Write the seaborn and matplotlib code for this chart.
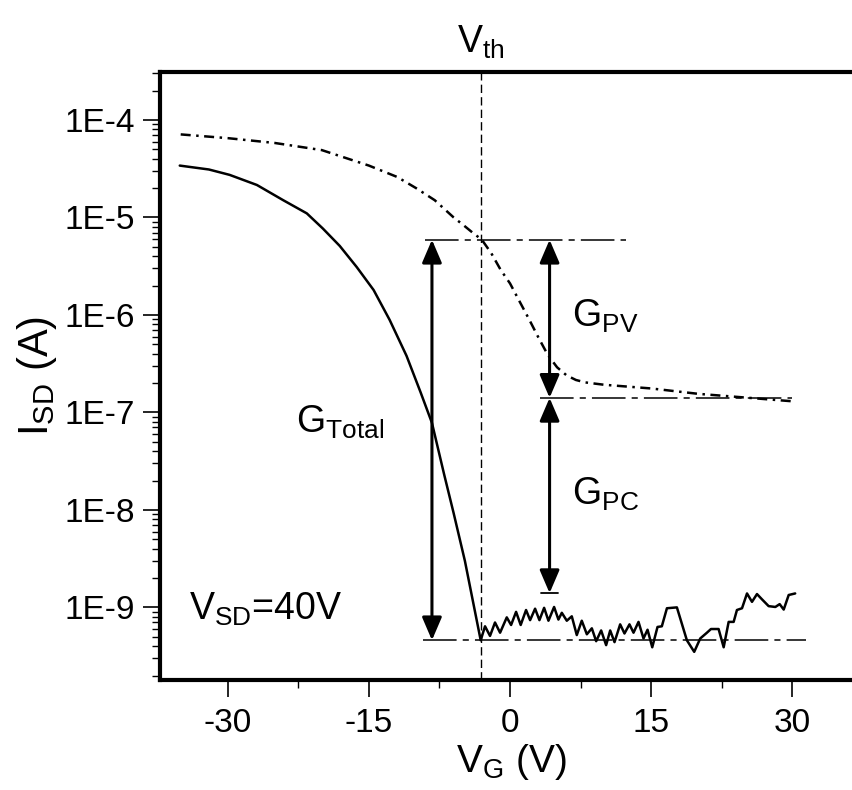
# transfer curve of the photo transistor, log scale current vs gate voltage
import matplotlib
matplotlib.use('Agg')
import matplotlib.pyplot as plt
import seaborn as sns
from matplotlib import rc
from matplotlib.ticker import FixedLocator, FixedFormatter, LogLocator, NullFormatter

# solid curve (dark / total current)
vg_total = [-35.1, -32, -29.8, -26.9, -24.1, -21.6, -19.9, -18.1, -16.3, -14.5, -12.8, -11.0,
            -9.5, -8.3, -7, -6, -4.8,
            -3.12, -2.66, -2.13, -1.60, -1.06, -0.35, 0.11, 0.64, 1.13, 1.70, 2.13, 2.66, 3.12,
            3.62, 4.08, 4.68, 5.14, 5.50, 6.03, 6.56, 7.09, 7.62, 8.16, 8.69, 9.15, 9.68, 10.21,
            10.64, 11.10, 11.70, 12.16, 12.69, 13.12, 13.65, 14.18, 14.61, 15.11, 15.67, 16.13,
            16.67, 17.73, 18.79, 19.57, 20.21, 20.92, 21.35, 22.16, 22.70, 23.23, 23.76, 24.11,
            24.65, 25.18, 25.71, 26.24, 26.77, 27.48, 28.19, 28.65, 29.08, 29.61, 30.3]
isd_total = [3.4e-5, 3.1e-5, 2.73e-5, 2.15e-5, 1.5e-5, 1.1e-5, 7.7e-6, 5.1e-6, 3.1e-6, 1.8e-6,
             8.9e-7, 3.8e-7, 1.6e-7, 7.8e-8, 2.3e-8, 9.3e-9, 3.0e-9,
             4.6e-10, 6.4e-10, 5.1e-10, 7.0e-10, 5.5e-10, 7.9e-10, 6.6e-10, 9.0e-10, 6.6e-10,
             9.4e-10, 7.4e-10, 9.7e-10, 7.4e-10, 9.9e-10, 7.3e-10, 1.01e-9, 7.5e-10, 8.8e-10,
             7.3e-10, 8.1e-10, 5.2e-10, 7.3e-10, 5.3e-10, 6.1e-10, 4.5e-10, 5.8e-10, 4.1e-10,
             5.8e-10, 4.4e-10, 6.7e-10, 5.4e-10, 6.7e-10, 5.5e-10, 7.1e-10, 4.8e-10, 5.9e-10,
             3.9e-10, 6.3e-10, 6.4e-10, 9.8e-10, 1.0e-9, 4.6e-10, 3.5e-10, 4.8e-10, 5.5e-10,
             6.0e-10, 6.0e-10, 3.9e-10, 7.1e-10, 7.1e-10, 9.4e-10, 9.8e-10, 1.39e-9, 1.14e-9,
             1.37e-9, 1.21e-9, 1.03e-9, 1.01e-9, 1.08e-9, 0.95e-9, 1.34e-9, 1.39e-9]

# dash-dot curve (photovoltaic)
vg_pv = [-35, -30, -25, -20, -15, -12, -10, -8, -6, -5, -4, -3, -2, -1, 0, 1, 2, 3, 4, 5, 6, 7,
         8, 10, 15, 20, 25, 30]
isd_pv = [7.1e-5, 6.5e-5, 5.8e-5, 4.9e-5, 3.4e-5, 2.6e-5, 2.0e-5, 1.5e-5, 1.0e-5, 8.4e-6,
          7.0e-6, 5.9e-6, 4.3e-6, 2.9e-6, 2.1e-6, 1.38e-6, 9.1e-7, 5.9e-7, 3.9e-7, 2.9e-7,
          2.4e-7, 2.15e-7, 2.03e-7, 1.92e-7, 1.76e-7, 1.55e-7, 1.42e-7, 1.3e-7]

# reference levels and arrows
vth = -3.1
upper_level, upper_x = 5.9e-6, [-9.0, 12.3]
mid_level, mid_x = 1.41e-7, [3.2, 30.0]
floor_level, floor_x = 4.6e-10, [-9.2, 31.5]
gpc_bottom, gpc_cap_x = 1.4e-9, [3.3, 5.1]
total_arrow_x = -8.3
split_arrow_x = 4.2

xticks = [-30, -15, 0, 15, 30]
xminor = [-22.5, -7.5, 7.5, 22.5]
yticks = [1e-9, 1e-8, 1e-7, 1e-6, 1e-5, 1e-4]
ytick_labels = ['1E-9', '1E-8', '1E-7', '1E-6', '1E-5', '1E-4']

sns.set_style('ticks', {'axes.edgecolor': 'black', 'text.color': 'black',
                        'xtick.color': 'black', 'ytick.color': 'black',
                        'axes.labelcolor': 'black'})
rc('mathtext', default='regular')
plt.rcParams['font.family'] = ['Liberation Sans', 'DejaVu Sans']
plt.rcParams['axes.unicode_minus'] = False

fig = plt.figure(figsize=(8.52, 7.90), dpi=100)
ax = fig.add_axes([160 / 852, 110 / 790, 702 / 852, 608 / 790])

sns.lineplot(x=vg_total, y=isd_total, ax=ax, color='black', lw=1.8, estimator=None, sort=False)
sns.lineplot(x=vg_pv, y=isd_pv, ax=ax, color='black', lw=1.8, estimator=None, sort=False,
             linestyle=(0, (4, 2.2, 1, 2.2)))

ax.axvline(vth, color='black', lw=1.0, ls=(0, (6, 3)))
dd = (0, (22, 4, 4, 4))
ax.plot(upper_x, [upper_level] * 2, color='black', lw=1.1, ls=dd)
ax.plot(mid_x, [mid_level] * 2, color='black', lw=1.1, ls=dd)
ax.plot(floor_x, [floor_level] * 2, color='black', lw=1.1, ls=dd)
ax.plot(gpc_cap_x, [gpc_bottom] * 2, color='black', lw=1.3)

arrow = dict(arrowstyle='<|-|>,head_length=0.7,head_width=0.3', color='black', lw=2.2,
             mutation_scale=20, shrinkA=0, shrinkB=0)
ax.annotate('', xy=(total_arrow_x, upper_level), xytext=(total_arrow_x, floor_level),
            arrowprops=arrow)
ax.annotate('', xy=(split_arrow_x, upper_level), xytext=(split_arrow_x, mid_level),
            arrowprops=arrow)
ax.annotate('', xy=(split_arrow_x, mid_level), xytext=(split_arrow_x, gpc_bottom),
            arrowprops=arrow)

ax.set_yscale('log')
ax.set_xlim(-37.2, 37.4)
ax.set_ylim(1.8e-10, 3.1e-4)

ax.xaxis.set_major_locator(FixedLocator(xticks))
ax.xaxis.set_minor_locator(FixedLocator(xminor))
ax.yaxis.set_major_locator(FixedLocator(yticks))
ax.yaxis.set_major_formatter(FixedFormatter(ytick_labels))
ax.yaxis.set_minor_locator(LogLocator(base=10, subs=range(2, 10), numticks=20))
ax.yaxis.set_minor_formatter(NullFormatter())

ax.tick_params(which='major', direction='out', length=12, width=1.2, labelsize=24, pad=6)
ax.tick_params(which='minor', direction='out', length=6, width=1.0)
ax.tick_params(axis='x', which='major', pad=8)
for s in ax.spines.values():
    s.set_linewidth(3)
ax.spines['right'].set_visible(False)

ax.set_xlabel('$V_G$ (V)', fontsize=28, labelpad=2)
ax.set_ylabel('$I_{SD}$ (A)', fontsize=30, labelpad=4)

ax.text(vth, 4.0e-4, '$V_{th}$', fontsize=27, ha='center', va='bottom')
ax.text(-22.7, 6.2e-8, '$G_{Total}$', fontsize=27, ha='left', va='baseline')
ax.text(6.56, 7.6e-7, '$G_{PV}$', fontsize=27, ha='left', va='baseline')
ax.text(6.56, 1.12e-8, '$G_{PC}$', fontsize=27, ha='left', va='baseline')
ax.text(-34.1, 7.4e-10, '$V_{SD}$=40V', fontsize=27, ha='left', va='baseline')
for t in ax.texts:
    t.set_clip_on(False)

fig.savefig('out.png', dpi=100)
